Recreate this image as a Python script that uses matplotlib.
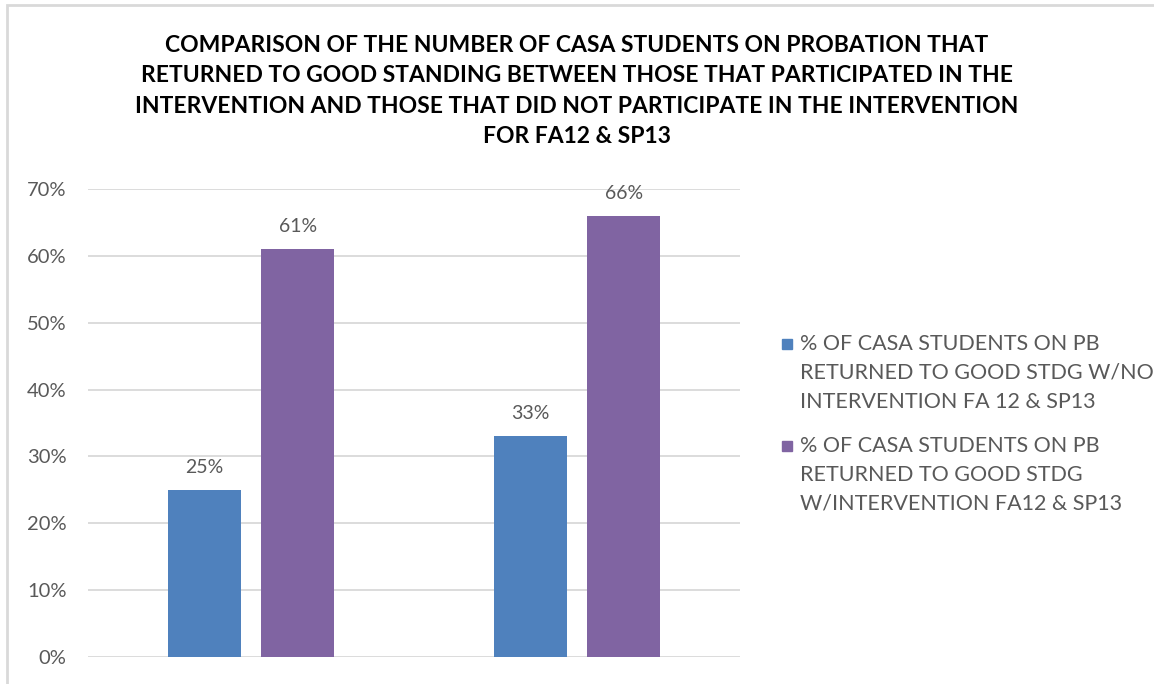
import numpy as np
import matplotlib.pyplot as plt
from matplotlib.patches import Rectangle

plt.rcParams['font.family'] = ['Lato', 'DejaVu Sans']

title = ("COMPARISON OF THE NUMBER OF CASA STUDENTS ON PROBATION THAT\n"
         "RETURNED TO GOOD STANDING BETWEEN THOSE THAT PARTICIPATED IN THE\n"
         "INTERVENTION AND THOSE THAT DID NOT PARTICIPATE IN THE INTERVENTION\n"
         "FOR FA12 & SP13")

groups = ["", ""]
no_intervention = [25, 33]
with_intervention = [61, 66]
series_labels = ["% OF CASA STUDENTS ON PB\nRETURNED TO GOOD STDG W/NO\nINTERVENTION FA 12 & SP13",
                 "% OF CASA STUDENTS ON PB\nRETURNED TO GOOD STDG\nW/INTERVENTION FA12 & SP13"]
yticks = [0, 10, 20, 30, 40, 50, 60, 70]

blue = "#4F81BD"
purple = "#8064A2"
grid = "#D9D9D9"
grey = "#595959"

W, H = 1154, 684
fig = plt.figure(figsize=(W/100, H/100), dpi=100)
ax = fig.add_axes([88/W, 27/H, 652/W, 468/H])

x = np.arange(len(groups))
w = 0.224
off = 0.143
b1 = ax.bar(x - off, no_intervention, w, color=blue, zorder=3)
b2 = ax.bar(x + off, with_intervention, w, color=purple, zorder=3)

for bars, vals in ((b1, no_intervention), (b2, with_intervention)):
    for r, v in zip(bars, vals):
        ax.annotate(f"{v}%", (r.get_x() + r.get_width()/2, v), xytext=(0, 10),
                    textcoords="offset points", ha="center", va="bottom",
                    fontsize=14, color=grey)

ax.set_xlim(-0.5, 1.5)
ax.set_ylim(0, 70)
ax.set_yticks(yticks)
ax.set_yticklabels([f"{t}%" for t in yticks], fontsize=14.5, color=grey)
ax.set_xticks([])
ax.tick_params(axis="y", length=0, pad=15.5)
ax.yaxis.grid(True, color=grid, linewidth=1.3, zorder=0)
for s in ax.spines.values():
    s.set_visible(False)

# legend drawn by hand: square beside the first line of each wrapped label
for lab, col, mid_y in ((series_labels[0], blue, 373), (series_labels[1], purple, 475)):
    fig.text(800/W, 1 - mid_y/H, lab, ha="left", va="center", fontsize=15.5,
             color=grey, linespacing=1.55)
    fig.patches.append(Rectangle((782/W, 1 - (mid_y - 24)/H), 10/W, 10/H,
                                 transform=fig.transFigure, color=col))

fig.text(0.5 * (88 + 1066) / W, 1 - 35/H, title, ha="center", va="top",
         fontsize=16.5, fontweight="bold", linespacing=1.55)

fig.patches.append(Rectangle((7/W, -0.1), 1.2, 1.1 - 5/H, transform=fig.transFigure,
                             fill=False, edgecolor=grid, linewidth=2))

fig.savefig("out.png", dpi=100)
